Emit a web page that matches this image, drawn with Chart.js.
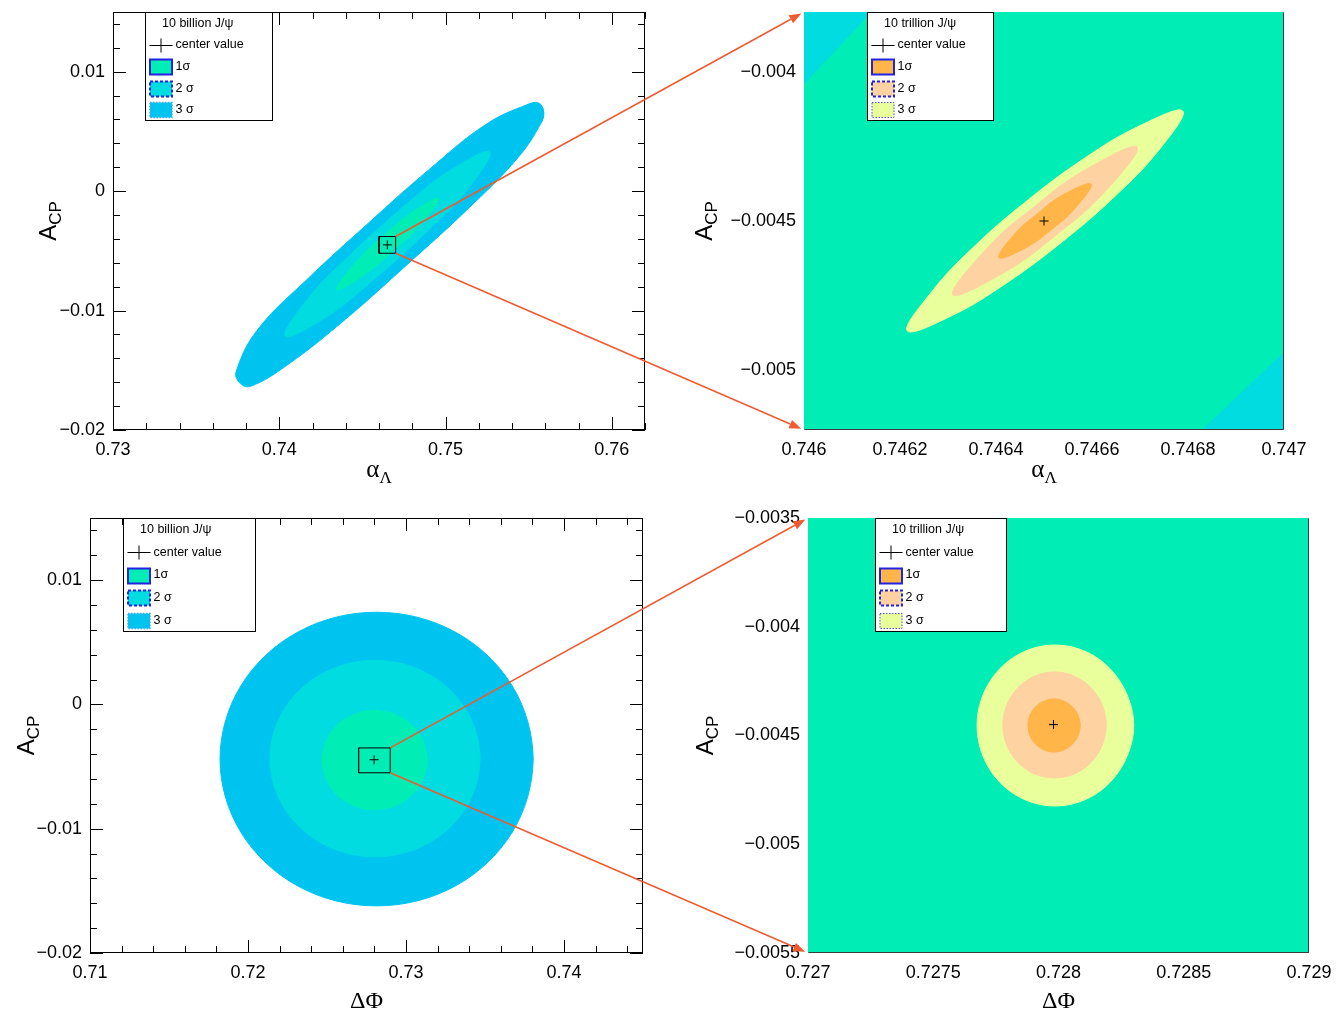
<!DOCTYPE html>
<html>
<head>
<meta charset="utf-8">
<script src="https://cdn.jsdelivr.net/npm/chart.js@4.4.0/dist/chart.umd.min.js"></script>
<style>
  html, body { margin: 0; padding: 0; background: #fff; }
  #page { position: relative; width: 1337px; height: 1015px; overflow: hidden; }
  #page canvas { position: absolute; }
  #arrows { pointer-events: none; }
</style>
</head>
<body>
<div id="page">
  <canvas id="cTL" width="668" height="500" style="left:0;top:0"></canvas>
  <canvas id="cTR" width="669" height="500" style="left:668px;top:0"></canvas>
  <canvas id="cBL" width="668" height="515" style="left:0;top:500px"></canvas>
  <canvas id="cBR" width="669" height="515" style="left:668px;top:500px"></canvas>
  <canvas id="arrows" width="1337" height="1015" style="left:0;top:0"></canvas>
</div>
<script>
// ---------------- axis ranges and tick labels ----------------
const tlXRange = [0.73, 0.762];
const tlYRange = [-0.02, 0.015];
const tlXTicks = [0.73, 0.74, 0.75, 0.76];
const tlXLabels = ['0.73', '0.74', '0.75', '0.76'];
const tlYTicks = [-0.02, -0.01, 0, 0.01];
const tlYLabels = ['\u22120.02', '\u22120.01', '0', '0.01'];

const trXRange = [0.746, 0.747];
const trYRange = [-0.0052, -0.0038];
const trXTicks = [0.746, 0.7462, 0.7464, 0.7466, 0.7468, 0.747];
const trXLabels = ['0.746', '0.7462', '0.7464', '0.7466', '0.7468', '0.747'];
const trYTicks = [-0.005, -0.0045, -0.004];
const trYLabels = ['\u22120.005', '\u22120.0045', '\u22120.004'];

const blXRange = [0.71, 0.745];
const blYRange = [-0.02, 0.015];
const blXTicks = [0.71, 0.72, 0.73, 0.74];
const blXLabels = ['0.71', '0.72', '0.73', '0.74'];
const blYTicks = [-0.02, -0.01, 0, 0.01];
const blYLabels = ['\u22120.02', '\u22120.01', '0', '0.01'];

const brXRange = [0.727, 0.729];
const brYRange = [-0.0055, -0.0035];
const brXTicks = [0.727, 0.7275, 0.728, 0.7285, 0.729];
const brXLabels = ['0.727', '0.7275', '0.728', '0.7285', '0.729'];
const brYTicks = [-0.0055, -0.005, -0.0045, -0.004, -0.0035];
const brYLabels = ['\u22120.0055', '\u22120.005', '\u22120.0045', '\u22120.004', '\u22120.0035'];

// ---------------- best-fit centres ----------------
const centerAlpha = [[0.7465, -0.0045]];
const centerPhi = [[0.72798, -0.00445]];

// ---------------- confidence contours (x, y), closed loops ----------------
// alpha_Lambda vs A_CP, 10 billion J/psi
const alphaB3 = [[0.75590,0.00671],[0.75560,0.00738],[0.75500,0.00729],[0.75247,0.00562],[0.74904,0.00184],[0.74536,-0.00268],[0.74175,-0.00729],[0.73867,-0.01165],[0.73741,-0.01509],[0.73759,-0.01601],[0.73825,-0.01635],[0.74054,-0.0145],[0.74398,-0.01073],[0.74765,-0.0062],[0.75127,-0.00159],[0.75434,0.00277],[0.75578,0.00578],[0.75590,0.00671]];
const alphaB2 = [[0.75265,0.00327],[0.7503,0.00176],[0.74765,-0.00109],[0.74398,-0.0057],[0.74169,-0.00905],[0.74036,-0.01215],[0.74271,-0.01065],[0.74536,-0.0078],[0.74904,-0.00319],[0.75133,0.00017],[0.75265,0.00327]];
const alphaB1 = [[0.74955,-0.00063],[0.74771,-0.00205],[0.74614,-0.00388],[0.74467,-0.00587],[0.74346,-0.00826],[0.7453,-0.00683],[0.74687,-0.005],[0.74834,-0.00302],[0.74955,-0.00063]];

// alpha_Lambda vs A_CP, 10 trillion J/psi
const alphaT3 = [[0.746789,-0.004132],[0.746697,-0.004183],[0.746585,-0.004289],[0.746467,-0.004429],[0.746356,-0.004583],[0.746267,-0.004735],[0.746215,-0.004868],[0.746308,-0.004817],[0.746419,-0.004711],[0.746537,-0.004571],[0.746648,-0.004417],[0.746738,-0.004265],[0.746789,-0.004132]];
const alphaT2 = [[0.746694,-0.004253],[0.746578,-0.004336],[0.746479,-0.004453],[0.746386,-0.004583],[0.74631,-0.004747],[0.746426,-0.004664],[0.746525,-0.004547],[0.746618,-0.004417],[0.746694,-0.004253]];
const alphaT1 = [[0.746598,-0.004377],[0.746538,-0.004414],[0.746489,-0.004472],[0.746442,-0.004538],[0.746406,-0.004623],[0.746466,-0.004586],[0.746516,-0.004528],[0.746562,-0.004462],[0.746598,-0.004377]];
// 2 sigma edge of the 10 billion contour inside the enlarged window
const alphaEdgeA = [[0.746,-0.00404],[0.74614,-0.0038],[0.746,-0.0038],[0.746,-0.00404]];
const alphaEdgeB = [[0.74683,-0.0052],[0.747,-0.00494],[0.747,-0.0052],[0.74683,-0.0052]];

// Delta Phi vs A_CP, 10 billion J/psi
const phiB3 = [[0.73804,-0.0044],[0.73671,0.00152],[0.73309,0.00584],[0.72813,0.00742],[0.72318,0.00584],[0.71956,0.00152],[0.71823,-0.0044],[0.71956,-0.01031],[0.72318,-0.01463],[0.72813,-0.01621],[0.73309,-0.01463],[0.73671,-0.01031],[0.73804,-0.0044]];
const phiB2 = [[0.73468,-0.00435],[0.73379,-0.0004],[0.73136,0.00249],[0.72804,0.00355],[0.72472,0.00249],[0.72228,-0.0004],[0.72139,-0.00435],[0.72228,-0.00831],[0.72472,-0.0112],[0.72804,-0.01226],[0.73136,-0.0112],[0.73379,-0.00831],[0.73468,-0.00435]];
const phiB1 = [[0.73133,-0.00448],[0.73089,-0.00248],[0.72967,-0.00102],[0.72801,-0.00048],[0.72634,-0.00102],[0.72513,-0.00248],[0.72468,-0.00448],[0.72513,-0.00647],[0.72634,-0.00794],[0.72801,-0.00847],[0.72967,-0.00794],[0.73089,-0.00647],[0.73133,-0.00448]];

// Delta Phi vs A_CP, 10 trillion J/psi
const phiT3 = [[0.7283,-0.004454],[0.728255,-0.004269],[0.728142,-0.004134],[0.727986,-0.004084],[0.72783,-0.004134],[0.727717,-0.004269],[0.727675,-0.004454],[0.727717,-0.004639],[0.72783,-0.004774],[0.727986,-0.004824],[0.728142,-0.004774],[0.728255,-0.004639],[0.7283,-0.004454]];
const phiT2 = [[0.72819,-0.004452],[0.728162,-0.00433],[0.728087,-0.004241],[0.727984,-0.004208],[0.727881,-0.004241],[0.727806,-0.00433],[0.727778,-0.004452],[0.727806,-0.004574],[0.727881,-0.004663],[0.727984,-0.004695],[0.728087,-0.004663],[0.728162,-0.004574],[0.72819,-0.004452]];
const phiT1 = [[0.728086,-0.004454],[0.728072,-0.004393],[0.728034,-0.004349],[0.727982,-0.004332],[0.72793,-0.004349],[0.727892,-0.004393],[0.727878,-0.004454],[0.727892,-0.004515],[0.72793,-0.004559],[0.727982,-0.004576],[0.728034,-0.004559],[0.728072,-0.004515],[0.728086,-0.004454]];

// ---------------- colours ----------------
const COL = {
  b1: '#00eeb6', b2: '#00dce0', b3: '#00c4f0',
  t1: '#ffb548', t2: '#ffd2a2', t3: '#e8ff9c',
  edge: '#2323e0', arrow: '#ef5a30'
};
const SANS = '"Liberation Sans", Arial, Helvetica, sans-serif';
const SERIF = '"Liberation Serif", "Times New Roman", serif';

// ---------------- helpers ----------------
const toPts = arr => arr.map(([x, y]) => ({ x, y }));

// A closed loop drawn with a spline: one vertex of overlap on each side so
// the curve has no corner where the loop closes.
function contour(label, arr, color, order, tension) {
  const t = tension === undefined ? 0.4 : tension;
  const n = arr.length;
  const loop = t > 0 ? [arr[n - 2], ...arr, arr[1]] : arr;
  return {
    label, data: toPts(loop), showLine: true, fill: 'shape',
    backgroundColor: color, borderColor: color, borderWidth: 1,
    pointRadius: 0, tension: t, order
  };
}
function centerMark(arr) {
  return {
    label: 'center value', data: toPts(arr), showLine: false,
    pointStyle: 'cross', pointRadius: 4.5, borderColor: '#000', borderWidth: 1,
    backgroundColor: '#000', order: 0
  };
}
function zoomBox(xr, yr) {
  return {
    label: 'zoom window',
    data: toPts([[xr[0], yr[0]], [xr[1], yr[0]], [xr[1], yr[1]], [xr[0], yr[1]], [xr[0], yr[0]]]),
    showLine: true, fill: false, borderColor: '#000', borderWidth: 1, pointRadius: 0, tension: 0, order: 0
  };
}

function axisOpts(axis, range, ticks, labels, size, pad) {
  return {
    type: 'linear', position: axis === 'x' ? 'bottom' : 'left',
    min: range[0], max: range[1],
    grid: { display: false, drawTicks: false },
    border: { display: false },
    afterBuildTicks: s => { s.ticks = ticks.map(v => ({ value: v })); },
    afterFit: s => {
      if (axis === 'x') s.height = size; else s.width = size;
      s.paddingLeft = s.paddingRight = s.paddingTop = s.paddingBottom = 0;
    },
    ticks: {
      autoSkip: false, maxRotation: 0, minRotation: 0, padding: pad, color: '#000',
      font: { family: SANS, size: 18 },
      callback: (v, i) => labels[i]
    }
  };
}

// ROOT-like frame: inward ticks on all four sides, titles and the legend box
function drawTickSet(ctx, scale, a, horizontal, majors, minorStep, majLen, minLen) {
  const n0 = Math.ceil(scale.min / minorStep - 1e-6);
  const n1 = Math.floor(scale.max / minorStep + 1e-6);
  ctx.beginPath();
  for (let n = n0; n <= n1; n++) {
    const v = n * minorStep;
    const isMajor = majors.some(m => Math.abs(m - v) < minorStep * 1e-3);
    const len = isMajor ? majLen : minLen;
    const p = Math.round(scale.getPixelForValue(v)) + 0.5;
    if (horizontal) {
      ctx.moveTo(p, a.bottom); ctx.lineTo(p, a.bottom - len);
      ctx.moveTo(p, a.top); ctx.lineTo(p, a.top + len);
    } else {
      ctx.moveTo(a.left, p); ctx.lineTo(a.left + len, p);
      ctx.moveTo(a.right, p); ctx.lineTo(a.right - len, p);
    }
  }
  ctx.stroke();
}

function drawParts(ctx, parts, x0, y0) {
  let total = 0;
  for (const p of parts) { ctx.font = p.font; p.w = ctx.measureText(p.t).width; total += p.w; }
  let x = x0 - total / 2;
  for (const p of parts) { ctx.font = p.font; ctx.fillText(p.t, x, y0 + (p.dy || 0)); x += p.w; }
}

function drawLegend(ctx, a, L) {
  const x0 = Math.round(a.left + L.dx) + 0.5, y0 = Math.round(a.top) + 0.5;
  const w = L.w, h = L.h;
  ctx.save();
  ctx.fillStyle = '#fff';
  ctx.fillRect(x0, y0, w, h);
  ctx.strokeStyle = '#000'; ctx.lineWidth = 1; ctx.setLineDash([]);
  ctx.strokeRect(x0, y0, w, h);
  ctx.fillStyle = '#000';
  ctx.textBaseline = 'middle';
  ctx.textAlign = 'left';
  const rowY = i => y0 + h * (i + 0.5) / 5;
  ctx.font = '12.5px ' + SANS;
  ctx.fillText(L.title, x0 + 16.5, rowY(0));
  // centre-value marker
  const cy1 = Math.round(rowY(1)) + 0.5;
  ctx.beginPath();
  ctx.moveTo(x0 + 4, cy1); ctx.lineTo(x0 + 27, cy1);
  ctx.moveTo(x0 + 15.5, cy1 - 7); ctx.lineTo(x0 + 15.5, cy1 + 7);
  ctx.stroke();
  ctx.fillText('center value', x0 + 30, rowY(1));
  // swatches
  L.entries.forEach((e, k) => {
    const cy = rowY(k + 2);
    const sx = x0 + 4.5, sy = Math.round(cy - 7.5) + 0.5, sw = 22, sh = 15;
    ctx.fillStyle = e.fill;
    ctx.fillRect(sx, sy, sw, sh);
    ctx.strokeStyle = e.stroke; ctx.lineWidth = e.lw; ctx.setLineDash(e.dash);
    ctx.strokeRect(sx, sy, sw, sh);
    ctx.setLineDash([]);
    ctx.fillStyle = '#000';
    ctx.fillText(e.text, x0 + 30, cy);
  });
  ctx.restore();
}

const rootStyle = {
  id: 'rootStyle',
  beforeDatasetsDraw(chart, args, o) {
    if (!o.background) return;
    const a = chart.chartArea, ctx = chart.ctx;
    ctx.save();
    ctx.fillStyle = o.background;
    ctx.fillRect(a.left, a.top, a.right - a.left, a.bottom - a.top);
    ctx.restore();
  },
  afterDatasetsDraw(chart, args, o) {
    const a = chart.chartArea, ctx = chart.ctx;
    const sx = chart.scales.x, sy = chart.scales.y;
    ctx.save();
    ctx.strokeStyle = '#000'; ctx.lineWidth = 1;
    const L = Math.round(a.left) + 0.5, T = Math.round(a.top) + 0.5;
    const R = Math.round(a.right) - 0.5, B = Math.round(a.bottom) - 0.5;
    if (o.filled) {
      // the filled map covers the ticks; only the lower and right frame edges stay visible
      ctx.strokeStyle = '#3a3a3a';
      ctx.beginPath();
      ctx.moveTo(L, B); ctx.lineTo(R, B); ctx.lineTo(R, T);
      ctx.stroke();
    } else {
      drawTickSet(ctx, sx, a, true, o.xMajors, o.xMinor, o.majLen, o.minLen);
      drawTickSet(ctx, sy, a, false, o.yMajors, o.yMinor, o.majLen, o.minLen);
      ctx.strokeRect(L, T, R - L, B - T);
    }
    // axis titles
    ctx.fillStyle = '#000';
    ctx.textBaseline = 'alphabetic';
    ctx.textAlign = 'left';
    drawParts(ctx, o.xTitle, (a.left + a.right) / 2, a.bottom + o.xTitleOffset);
    ctx.translate(a.left - o.yTitleOffset, (a.top + a.bottom) / 2);
    ctx.rotate(-Math.PI / 2);
    drawParts(ctx, [
      { t: 'A', font: '24px ' + SANS },
      { t: 'CP', font: '17px ' + SANS, dy: 5 }
    ], 0, 0);
    ctx.restore();
    drawLegend(ctx, a, o.legend);
  }
};

const alphaTitle = [
  { t: '\u03b1', font: '25px ' + SERIF },
  { t: '\u039b', font: '17px ' + SERIF, dy: 6 }
];
const phiTitle = [{ t: '\u0394\u03a6', font: '24px ' + SERIF }];

const billionEntries = [
  { text: '1\u03c3', fill: COL.b1, stroke: COL.edge, lw: 2, dash: [] },
  { text: '2 \u03c3', fill: COL.b2, stroke: COL.edge, lw: 2, dash: [3, 2] },
  { text: '3 \u03c3', fill: COL.b3, stroke: '#3aaef0', lw: 1.5, dash: [1.5, 1.5] }
];
const trillionEntries = [
  { text: '1\u03c3', fill: COL.t1, stroke: COL.edge, lw: 2, dash: [] },
  { text: '2 \u03c3', fill: COL.t2, stroke: COL.edge, lw: 2, dash: [3, 2] },
  { text: '3 \u03c3', fill: COL.t3, stroke: '#5050e0', lw: 1, dash: [1.5, 1.5] }
];

function makePanel(id, cfg) {
  return new Chart(document.getElementById(id), {
    type: 'scatter',
    data: { datasets: cfg.datasets },
    options: {
      responsive: false, animation: false, devicePixelRatio: 1, events: [],
      layout: { padding: cfg.padding },
      plugins: { legend: { display: false }, tooltip: { enabled: false }, rootStyle: cfg.style },
      scales: {
        x: axisOpts('x', cfg.xRange, cfg.xTicks, cfg.xLabels, cfg.xSize, 9),
        y: axisOpts('y', cfg.yRange, cfg.yTicks, cfg.yLabels, cfg.ySize, 8)
      }
    },
    plugins: [rootStyle]
  });
}

const ROUND = 0.35;   // spline tension for the round contours

const chartTL = makePanel('cTL', {
  padding: { top: 12, right: 23, bottom: 0, left: 0 }, xSize: 70, ySize: 113,
  xRange: tlXRange, yRange: tlYRange, xTicks: tlXTicks, xLabels: tlXLabels, yTicks: tlYTicks, yLabels: tlYLabels,
  datasets: [
    contour('3 \u03c3', alphaB3, COL.b3, 3),
    contour('2 \u03c3', alphaB2, COL.b2, 2),
    contour('1\u03c3', alphaB1, COL.b1, 1),
    zoomBox(trXRange, trYRange),
    centerMark(centerAlpha)
  ],
  style: {
    xMajors: tlXTicks, yMajors: tlYTicks, xMinor: 0.002, yMinor: 0.002, majLen: 13, minLen: 7,
    xTitle: alphaTitle, xTitleOffset: 47, yTitleOffset: 57,
    legend: { dx: 32, w: 127, h: 108, title: '10 billion J/\u03c8', entries: billionEntries }
  }
});

const chartTR = makePanel('cTR', {
  padding: { top: 12, right: 53, bottom: 0, left: 0 }, xSize: 70, ySize: 136,
  xRange: trXRange, yRange: trYRange, xTicks: trXTicks, xLabels: trXLabels, yTicks: trYTicks, yLabels: trYLabels,
  datasets: [
    contour('edge', alphaEdgeA, COL.b2, 4, 0),
    contour('edge', alphaEdgeB, COL.b2, 4, 0),
    contour('3 \u03c3', alphaT3, COL.t3, 3),
    contour('2 \u03c3', alphaT2, COL.t2, 2),
    contour('1\u03c3', alphaT1, COL.t1, 1),
    centerMark(centerAlpha)
  ],
  style: {
    background: COL.b1, filled: true,
    xTitle: alphaTitle, xTitleOffset: 47, yTitleOffset: 92,
    legend: { dx: 63, w: 126, h: 108, title: '10 trillion J/\u03c8', entries: trillionEntries }
  }
});

const chartBL = makePanel('cBL', {
  padding: { top: 18, right: 25, bottom: 0, left: 0 }, xSize: 62, ySize: 90,
  xRange: blXRange, yRange: blYRange, xTicks: blXTicks, xLabels: blXLabels, yTicks: blYTicks, yLabels: blYLabels,
  datasets: [
    contour('3 \u03c3', phiB3, COL.b3, 3, ROUND),
    contour('2 \u03c3', phiB2, COL.b2, 2, ROUND),
    contour('1\u03c3', phiB1, COL.b1, 1, ROUND),
    zoomBox(brXRange, brYRange),
    centerMark(centerPhi)
  ],
  style: {
    xMajors: blXTicks, yMajors: blYTicks, xMinor: 0.002, yMinor: 0.002, majLen: 13, minLen: 7,
    xTitle: phiTitle, xTitleOffset: 55, yTitleOffset: 56,
    legend: { dx: 33, w: 132, h: 113, title: '10 billion J/\u03c8', entries: billionEntries }
  }
});

const chartBR = makePanel('cBR', {
  padding: { top: 18, right: 28, bottom: 0, left: 0 }, xSize: 62, ySize: 140,
  xRange: brXRange, yRange: brYRange, xTicks: brXTicks, xLabels: brXLabels, yTicks: brYTicks, yLabels: brYLabels,
  datasets: [
    contour('3 \u03c3', phiT3, COL.t3, 3, ROUND),
    contour('2 \u03c3', phiT2, COL.t2, 2, ROUND),
    contour('1\u03c3', phiT1, COL.t1, 1, ROUND),
    centerMark(centerPhi)
  ],
  style: {
    background: COL.b1, filled: true,
    xTitle: phiTitle, xTitleOffset: 55, yTitleOffset: 95,
    legend: { dx: 67, w: 131, h: 113, title: '10 trillion J/\u03c8', entries: trillionEntries }
  }
});

// ---------------- arrows from each zoom window to its enlarged panel ----------------
function pagePoint(chart, x, y) {
  const c = chart.canvas;
  return { x: c.offsetLeft + chart.scales.x.getPixelForValue(x), y: c.offsetTop + chart.scales.y.getPixelForValue(y) };
}
function drawArrow(ctx, p0, p1) {
  const dx = p1.x - p0.x, dy = p1.y - p0.y, len = Math.hypot(dx, dy);
  const ux = dx / len, uy = dy / len;
  const tip = { x: p1.x - 3 * ux, y: p1.y - 3 * uy };
  const head = 12, half = 4.5;
  const bx = tip.x - head * ux, by = tip.y - head * uy;
  ctx.beginPath();
  ctx.moveTo(p0.x, p0.y); ctx.lineTo(bx, by);
  ctx.stroke();
  ctx.beginPath();
  ctx.moveTo(tip.x, tip.y);
  ctx.lineTo(bx - half * uy, by + half * ux);
  ctx.lineTo(bx + half * uy, by - half * ux);
  ctx.closePath();
  ctx.fill();
}
(function drawArrows() {
  const ctx = document.getElementById('arrows').getContext('2d');
  ctx.strokeStyle = COL.arrow; ctx.fillStyle = COL.arrow; ctx.lineWidth = 1.5;
  const links = [[chartTL, chartTR, trXRange, trYRange], [chartBL, chartBR, brXRange, brYRange]];
  for (const [src, dst, xr, yr] of links) {
    for (const yv of [yr[1], yr[0]]) {
      drawArrow(ctx, pagePoint(src, xr[1], yv), pagePoint(dst, xr[0], yv));
    }
  }
})();
</script>
</body>
</html>
